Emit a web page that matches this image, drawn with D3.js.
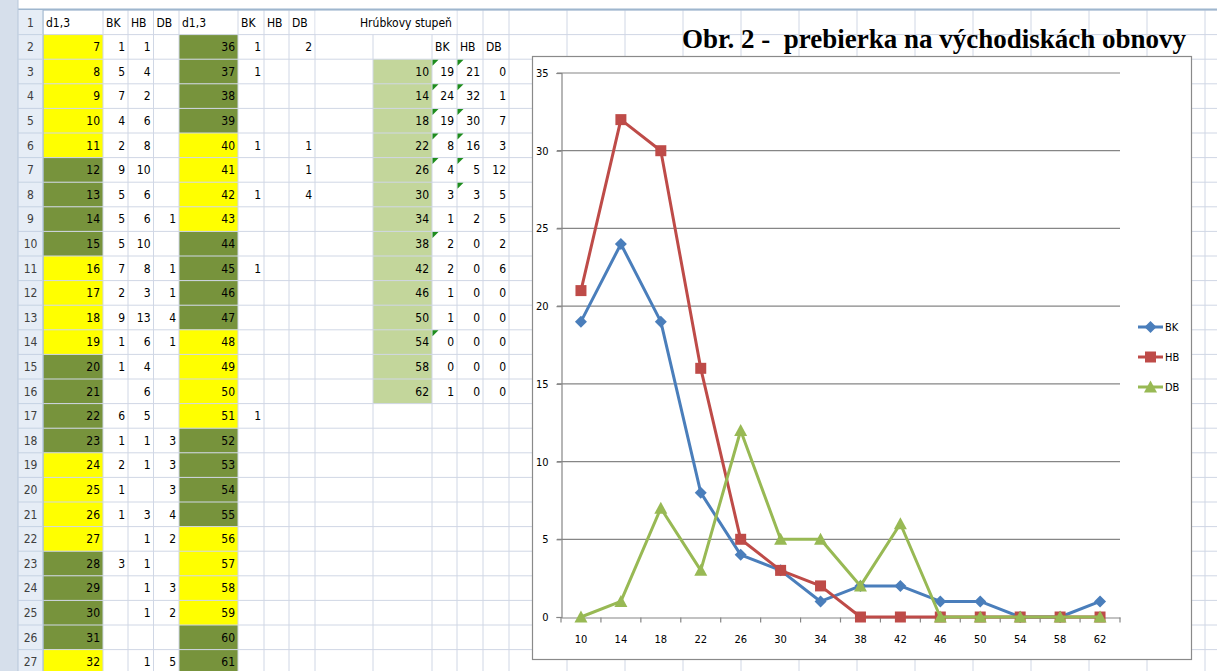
<!DOCTYPE html>
<html>
<head>
<meta charset="utf-8">
<script src="https://cdn.jsdelivr.net/npm/d3@7"></script>
<style>
  body { margin: 0; background: #fff; }
  svg { display: block; }
</style>
</head>
<body>
<div id="canvas"></div>
<script>
// left table: d1,3 with BK / HB / DB counts
const leftD = [7, 8, 9, 10, 11, 12, 13, 14, 15, 16, 17, 18, 19, 20, 21, 22, 23, 24, 25, 26, 27, 28, 29, 30, 31, 32];
const leftBK = [1, 5, 7, 4, 2, 9, 5, 5, 5, 7, 2, 9, 1, 1, null, 6, 1, 2, 1, 1, null, 3, null, null, null, null];
const leftHB = [1, 4, 2, 6, 8, 10, 6, 6, 10, 8, 3, 13, 6, 4, 6, 5, 1, 1, null, 3, 1, 1, 1, 1, null, 1];
const leftDB = [null, null, null, null, null, null, null, 1, null, 1, 1, 4, 1, null, null, null, 3, 3, 3, 4, 2, null, 3, 2, null, 5];

const rightD = [36, 37, 38, 39, 40, 41, 42, 43, 44, 45, 46, 47, 48, 49, 50, 51, 52, 53, 54, 55, 56, 57, 58, 59, 60, 61];
const rightBK = [1, 1, null, null, 1, null, 1, null, null, 1, null, null, null, null, null, 1, null, null, null, null, null, null, null, null, null, null];
const rightDB = [2, null, null, null, 1, 1, 4];

// summary: hrubkovy stupen
const stupne = [10, 14, 18, 22, 26, 30, 34, 38, 42, 46, 50, 54, 58, 62];
const BK = [19, 24, 19, 8, 4, 3, 1, 2, 2, 1, 1, 0, 0, 1];
const HB = [21, 32, 30, 16, 5, 3, 2, 0, 0, 0, 0, 0, 0, 0];
const DB = [0, 1, 7, 3, 12, 5, 5, 2, 6, 0, 0, 0, 0, 0];
const yTicks = [0, 5, 10, 15, 20, 25, 30, 35];

const W = 1217, H = 671;
const svg = d3.select('#canvas').append('svg').attr('width', W).attr('height', H);

// sheet geometry
const rowH = 24.6, top0 = 10;
function rowTop(r) { return top0 + (r - 1) * rowH; }
function rowMid(r) { return rowTop(r) + rowH / 2; }
let colEdges = [18, 43, 103, 128, 153.5, 179, 238, 264, 289, 315, 373, 432, 457, 483, 509];
while (colEdges[colEdges.length - 1] < W) colEdges.push(colEdges[colEdges.length - 1] + 58);

const cellFont = "'DejaVu Sans Condensed', 'DejaVu Sans', sans-serif";
const sheet = svg.append('g');

// fills
function dColor(d) {
    if (d < 8) return '#ffff00';
    return Math.floor((d - 8) / 4) % 2 == 0 ? '#ffff00' : '#77933c';
}
leftD.forEach(function (d, i) {
    sheet.append('rect').attr('x', colEdges[1]).attr('y', rowTop(i + 2))
        .attr('width', colEdges[2] - colEdges[1]).attr('height', rowH).attr('fill', dColor(d));
});
rightD.forEach(function (d, i) {
    sheet.append('rect').attr('x', colEdges[5]).attr('y', rowTop(i + 2))
        .attr('width', colEdges[6] - colEdges[5]).attr('height', rowH).attr('fill', dColor(d));
});
sheet.append('rect').attr('x', colEdges[10]).attr('y', rowTop(3))
    .attr('width', colEdges[11] - colEdges[10]).attr('height', rowH * stupne.length).attr('fill', '#c3d69b');

// gridlines
colEdges.slice(1).forEach(function (x) {
    sheet.append('line').attr('x1', x).attr('x2', x).attr('y1', 0).attr('y2', H)
        .attr('stroke', '#d0d7e5').attr('stroke-width', 1);
});
for (let r = 1; r <= 28; r++) {
    sheet.append('line').attr('x1', colEdges[0]).attr('x2', W).attr('y1', rowTop(r)).attr('y2', rowTop(r))
        .attr('stroke', '#d0d7e5').attr('stroke-width', 1);
}
// header overflow text area (no inner lines)
sheet.append('rect').attr('x', colEdges[9] + 0.5).attr('y', rowTop(1) + 0.5)
    .attr('width', colEdges[12] - colEdges[9] - 1).attr('height', rowH - 1).attr('fill', '#fff');

// top strip and left frame
sheet.append('rect').attr('x', 0).attr('y', 0).attr('width', W).attr('height', 9).attr('fill', '#fff');
sheet.append('line').attr('x1', 0).attr('x2', W).attr('y1', 9.5).attr('y2', 9.5)
    .attr('stroke', '#9eb6ce').attr('stroke-width', 2);
sheet.append('rect').attr('x', 0).attr('y', 0).attr('width', 18).attr('height', H).attr('fill', '#d6dfeb');
sheet.append('rect').attr('x', 18).attr('y', 10).attr('width', 25).attr('height', H).attr('fill', '#e6edf6');
sheet.append('line').attr('x1', 18).attr('x2', 18).attr('y1', 0).attr('y2', H).attr('stroke', '#b7c6d9');
sheet.append('line').attr('x1', 43).attr('x2', 43).attr('y1', 10).attr('y2', H).attr('stroke', '#9eb6ce');
for (let r = 1; r <= 27; r++) {
    sheet.append('line').attr('x1', 18).attr('x2', 43).attr('y1', rowTop(r + 1)).attr('y2', rowTop(r + 1))
        .attr('stroke', '#c5d2e3');
    sheet.append('text').attr('x', 30.5).attr('y', rowMid(r)).attr('dy', '0.35em')
        .attr('text-anchor', 'middle').attr('font-family', cellFont).attr('font-size', 12)
        .attr('fill', '#404040').text(r);
}

function cellText(col, row, value, align) {
    if (value === null || value === undefined) return;
    const left = align === 'left';
    sheet.append('text')
        .attr('x', left ? colEdges[col] + 3 : colEdges[col + 1] - 3)
        .attr('y', rowMid(row)).attr('dy', '0.36em')
        .attr('text-anchor', left ? 'start' : 'end')
        .attr('font-family', cellFont).attr('font-size', 12).attr('fill', '#000')
        .text(value);
}

// header row
['d1,3', 'BK', 'HB', 'DB', 'd1,3', 'BK', 'HB', 'DB'].forEach(function (t, i) {
    cellText(i + 1, 1, t, 'left');
});
sheet.append('text').attr('x', 360).attr('y', rowMid(1)).attr('dy', '0.36em')
    .attr('font-family', cellFont).attr('font-size', 12).attr('fill', '#000').text('Hrúbkovy stupeň');
['BK', 'HB', 'DB'].forEach(function (t, i) { cellText(11 + i, 2, t, 'left'); });

leftD.forEach(function (d, i) {
    cellText(1, i + 2, d);
    cellText(2, i + 2, leftBK[i]);
    cellText(3, i + 2, leftHB[i]);
    cellText(4, i + 2, leftDB[i]);
});
rightD.forEach(function (d, i) {
    cellText(5, i + 2, d);
    cellText(6, i + 2, rightBK[i]);
    cellText(8, i + 2, rightDB[i]);
});
stupne.forEach(function (s, i) {
    cellText(10, i + 3, s);
    cellText(11, i + 3, BK[i]);
    cellText(12, i + 3, HB[i]);
    cellText(13, i + 3, DB[i]);
});

// green error indicators (text-stored numbers)
const flagsBK = [10, 14, 18, 22, 26, 38, 54];
const flagsHB = [10, 14, 18, 22, 26, 30];
function flag(col, s) {
    const r = stupne.indexOf(s) + 3;
    const x = colEdges[col] + 0.5, y = rowTop(r) + 0.5;
    sheet.append('path').attr('d', 'M' + x + ',' + y + 'h6l-6,6z').attr('fill', '#1e8c1e');
}
flagsBK.forEach(function (s) { flag(11, s); });
flagsHB.forEach(function (s) { flag(12, s); });

// title
svg.append('text').attr('x', 1186).attr('y', 48).attr('text-anchor', 'end')
    .attr('xml:space', 'preserve').style('white-space', 'pre')
    .attr('font-family', "'Liberation Serif', 'Times New Roman', serif")
    .attr('font-weight', 'bold').attr('font-size', 27).attr('fill', '#000')
    .text('Obr. 2 -  prebierka na východiskách obnovy');

// chart box
const chart = svg.append('g');
chart.append('rect').attr('x', 532.5).attr('y', 56.5).attr('width', 659).attr('height', 603)
    .attr('fill', '#fff').attr('stroke', '#8a8a8a').attr('stroke-width', 1.2);

const x = d3.scaleBand().domain(stupne).range([561, 1120]);
const y = d3.scaleLinear().domain([0, 35]).range([617, 73]);
const chartFont = "'DejaVu Sans Condensed', 'DejaVu Sans', sans-serif";

// gridlines
chart.append('g').selectAll('line').data(yTicks.slice(1)).enter().append('line')
    .attr('x1', 557).attr('x2', 1120)
    .attr('y1', function (d) { return y(d); }).attr('y2', function (d) { return y(d); })
    .attr('stroke', '#868686').attr('stroke-width', 1.2);

// y axis
const yAxis = chart.append('g').attr('transform', 'translate(561.5,0)')
    .call(d3.axisLeft(y).tickValues(yTicks).tickSize(5).tickPadding(8));
yAxis.select('.domain').attr('stroke', '#868686').attr('stroke-width', 1.2);
yAxis.selectAll('.tick line').attr('stroke', '#868686').attr('stroke-width', 1.2);
yAxis.selectAll('text').attr('font-family', chartFont).attr('font-size', 11).attr('fill', '#000');

// x axis
const xAxis = chart.append('g').attr('transform', 'translate(0,' + (y(0) + 0.5) + ')')
    .call(d3.axisBottom(x).tickSize(0).tickPadding(18));
xAxis.select('.domain').attr('stroke', '#868686').attr('stroke-width', 1.2);
xAxis.selectAll('text').attr('font-family', chartFont).attr('font-size', 11).attr('fill', '#000');
const bounds = stupne.map(function (s) { return x(s); }).concat([x(stupne[stupne.length - 1]) + x.bandwidth()]);
xAxis.selectAll('.bound').data(bounds).enter().append('line').attr('class', 'bound')
    .attr('x1', function (d) { return d; }).attr('x2', function (d) { return d; })
    .attr('y1', 0).attr('y2', 5).attr('stroke', '#868686').attr('stroke-width', 1.2);

// series
const series = [
    { name: 'BK', values: BK, color: '#4a7ebb', marker: 'M0,-6L6,0L0,6L-6,0Z' },
    { name: 'HB', values: HB, color: '#be4b48', marker: 'M-5.5,-5.5H5.5V5.5H-5.5Z' },
    { name: 'DB', values: DB, color: '#98b954', marker: 'M0,-6.5L6.5,5.5H-6.5Z' }
];
const line = d3.line()
    .x(function (d, i) { return x(stupne[i]) + x.bandwidth() / 2; })
    .y(function (d) { return y(d); });

series.forEach(function (s) {
    const g = chart.append('g');
    g.append('path').attr('d', line(s.values)).attr('fill', 'none')
        .attr('stroke', s.color).attr('stroke-width', 3).attr('stroke-linejoin', 'round');
    g.selectAll('path.m').data(s.values).enter().append('path').attr('class', 'm')
        .attr('d', s.marker).attr('fill', s.color)
        .attr('transform', function (d, i) {
            return 'translate(' + (x(stupne[i]) + x.bandwidth() / 2) + ',' + y(d) + ')';
        });
});

// legend
const legend = chart.append('g');
series.forEach(function (s, i) {
    const ly = 327 + i * 30;
    legend.append('line').attr('x1', 1138).attr('x2', 1163).attr('y1', ly).attr('y2', ly)
        .attr('stroke', s.color).attr('stroke-width', 3);
    legend.append('path').attr('d', s.marker).attr('fill', s.color)
        .attr('transform', 'translate(1150.5,' + ly + ')');
    legend.append('text').attr('x', 1165).attr('y', ly).attr('dy', '0.35em')
        .attr('font-family', chartFont).attr('font-size', 11).attr('fill', '#000').text(s.name);
});
</script>
</body>
</html>
